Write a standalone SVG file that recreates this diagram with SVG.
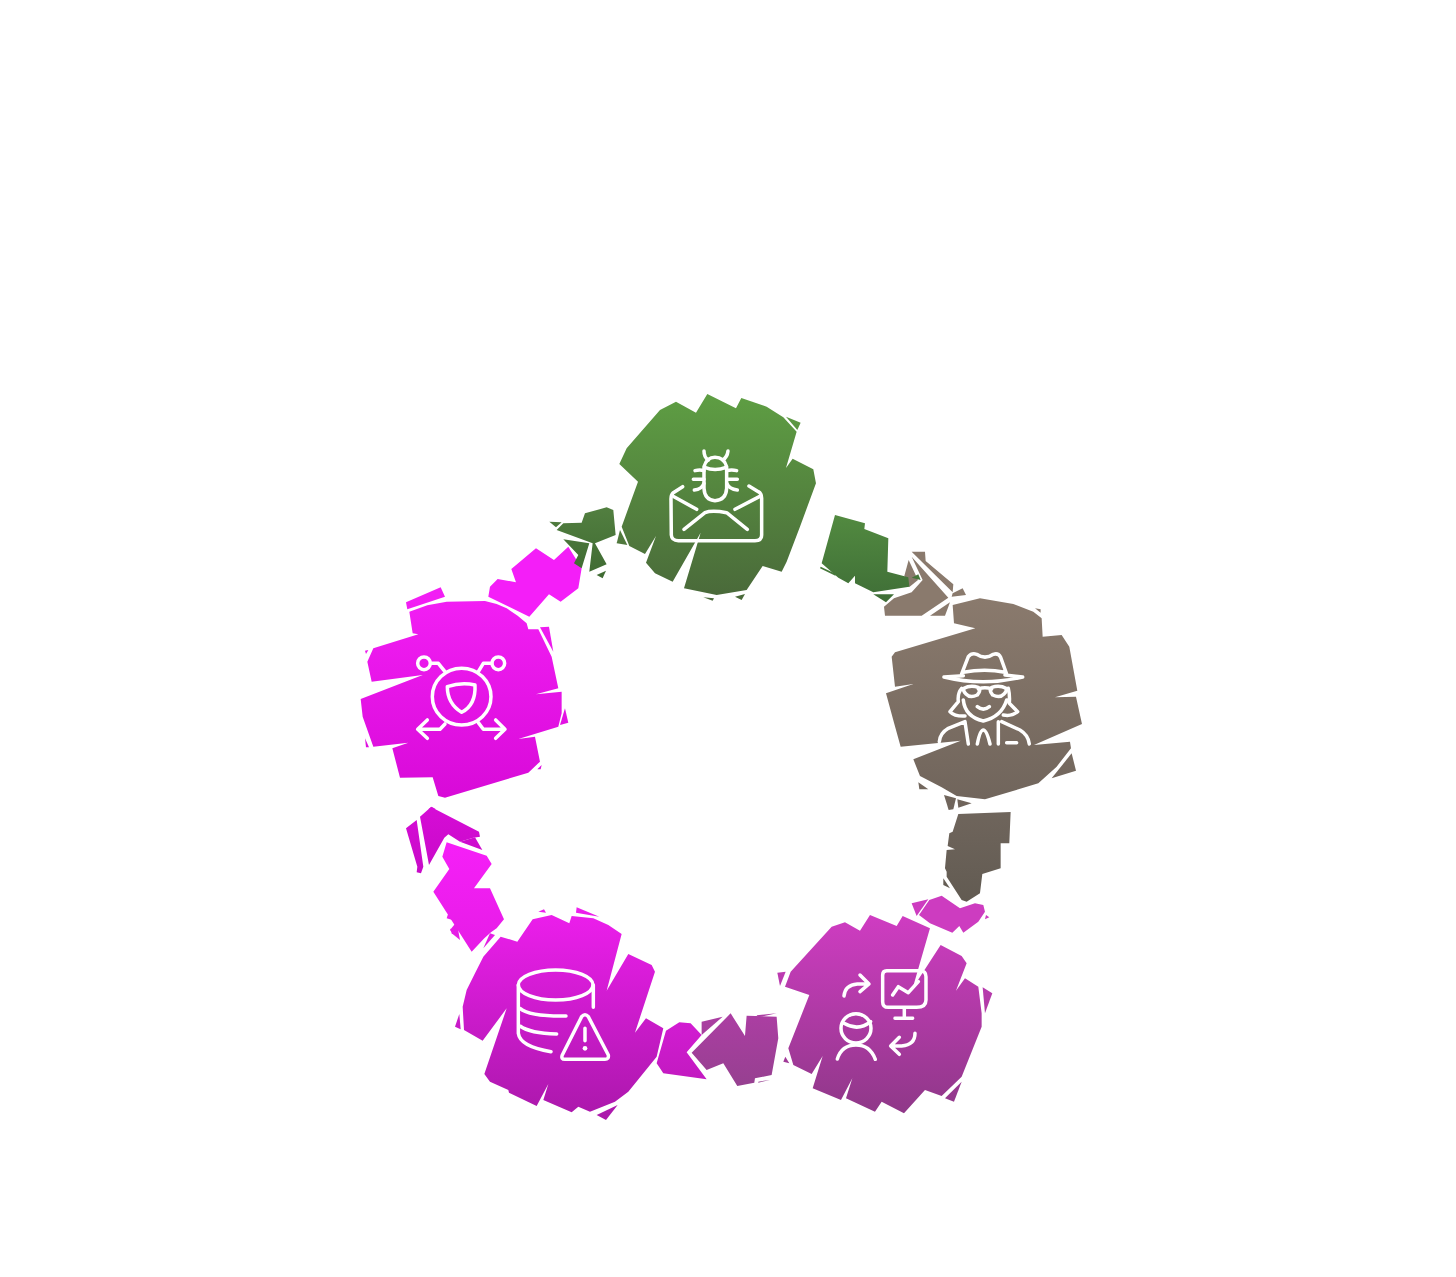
<svg xmlns="http://www.w3.org/2000/svg" width="1456" height="1277" viewBox="0 0 1456 1277">
<style>
.ic{fill:none;stroke:#fff;stroke-width:10.5;stroke-linecap:round;stroke-linejoin:round}
.gn{fill:url(#gGreen)}.ga{fill:url(#gGreenA)}.gb{fill:url(#gGreenB)}
.br{fill:url(#gBrown)}.bt{fill:#8a7a6d}.bb{fill:url(#gBrownB)}
.pu{fill:url(#gPurple)}.pt{fill:#cd3cc0}.pb{fill:url(#gPurpleB)}
.db{fill:url(#gDb)}.da{fill:url(#gDbA)}
.sh{fill:url(#gSh)}.st{fill:#f41ef8}.mb{fill:url(#gMb)}.md{fill:url(#gMd)}
</style>
<defs>
<linearGradient id="gGreen" gradientUnits="userSpaceOnUse" x1="0" x2="0" y1="42" y2="645"><stop offset="0" stop-color="#5e9e43"/><stop offset="1" stop-color="#4a6a3a"/></linearGradient>
<linearGradient id="gGreenA" gradientUnits="userSpaceOnUse" x1="0" x2="0" y1="30" y2="290"><stop offset="0" stop-color="#528a40"/><stop offset="1" stop-color="#3f6e37"/></linearGradient>
<linearGradient id="gGreenB" gradientUnits="userSpaceOnUse" x1="0" x2="0" y1="20" y2="235"><stop offset="0" stop-color="#527f40"/><stop offset="1" stop-color="#3f6a32"/></linearGradient>
<linearGradient id="gBrown" gradientUnits="userSpaceOnUse" x1="0" x2="0" y1="175" y2="810"><stop offset="0" stop-color="#8a7a6d"/><stop offset="1" stop-color="#6f645b"/></linearGradient>
<linearGradient id="gBrownB" gradientUnits="userSpaceOnUse" x1="0" x2="0" y1="36" y2="305"><stop offset="0" stop-color="#6f655c"/><stop offset="1" stop-color="#625b52"/></linearGradient>
<linearGradient id="gPurple" gradientUnits="userSpaceOnUse" x1="0" x2="0" y1="345" y2="940"><stop offset="0" stop-color="#cf3cc2"/><stop offset="1" stop-color="#8f3888"/></linearGradient>
<linearGradient id="gPurpleB" gradientUnits="userSpaceOnUse" x1="0" x2="0" y1="340" y2="558"><stop offset="0" stop-color="#ac3ea3"/><stop offset="1" stop-color="#964090"/></linearGradient>
<linearGradient id="gDb" gradientUnits="userSpaceOnUse" x1="0" x2="0" y1="20" y2="660"><stop offset="0" stop-color="#ee1eee"/><stop offset="1" stop-color="#aa18aa"/></linearGradient>
<linearGradient id="gDbA" gradientUnits="userSpaceOnUse" x1="0" x2="0" y1="367" y2="540"><stop offset="0" stop-color="#d21cd2"/><stop offset="1" stop-color="#c21ac0"/></linearGradient>
<linearGradient id="gSh" gradientUnits="userSpaceOnUse" x1="0" x2="0" y1="300" y2="893"><stop offset="0" stop-color="#f21ef4"/><stop offset="1" stop-color="#d80ad8"/></linearGradient>
<linearGradient id="gMb" gradientUnits="userSpaceOnUse" x1="0" x2="0" y1="140" y2="470"><stop offset="0" stop-color="#f61ff8"/><stop offset="1" stop-color="#e61ce6"/></linearGradient>
<linearGradient id="gMd" gradientUnits="userSpaceOnUse" x1="0" x2="0" y1="36" y2="235"><stop offset="0" stop-color="#d60cd6"/><stop offset="1" stop-color="#c80ac8"/></linearGradient>
</defs>
<rect width="1456" height="1277" fill="#fff"/>
<g id="connectors">
<g id="connector-green-brown">
<g transform="translate(810,505) scale(.3333)">
<g class="bt">
<polygon points="305,140 345,140 347,168 430,238 428,262"/>
<polygon points="428,265 458,250 468,270 425,275"/>
<polygon points="305,155 415,278 335,332 225,332 222,305 252,280 305,262 338,225"/>
<polygon points="360,332 405,332 420,292"/>
<polygon points="283,213 296,165 324,225 298,246"/>
</g>
<g class="ga">
<polygon points="75,30 165,55 163,72 235,100 232,200 295,217 298,245 190,262 135,235 135,212 115,235 85,218 35,175"/>
<polygon points="32,185 78,207 76,212 30,190"/>
<polygon points="305,218 325,208 332,225"/>
<polygon points="190,268 252,268 228,292"/>
</g>
</g>
</g>
<g id="connector-brown-purple">
<g transform="translate(770,800) scale(.3333)">
<polygon class="pt" points="425,310 475,298 440,348"/>
<polygon class="pt" points="447,345 478,300 515,287 570,325 615,310 640,315 645,335 625,365 580,398 568,378 547,398 480,370"/>
<polygon class="pt" points="648,345 658,352 645,358"/>
<polygon class="bb" points="565,42 722,36 718,130 692,130 692,205 637,222 630,280 590,305 575,300 530,230 530,215 525,205 530,150 555,148 533,138 538,100 548,95"/>
<polygon class="bb" points="520,235 540,265 520,255"/>
</g>
</g>
<g id="connector-purple-db">
<g transform="translate(440,900) scale(.3333)">
<polygon class="da" points="678,392 718,367 752,370 785,405 740,457 800,538 670,520 650,490"/>
<g class="pb">
<polygon points="755,458 872,340 915,408 920,347 1010,350 1015,415 995,525 945,535 943,548 892,558 850,490 800,510"/>
<polygon points="785,365 848,350 785,405"/>
<polygon points="950,346 1010,340 955,352"/>
<polygon points="955,545 990,540 955,548"/>
</g>
</g>
</g>
<g id="connector-db-shield">
<g transform="translate(395,795) scale(.3333)">
<g class="md">
<polygon points="33,100 65,75 85,215 78,235 65,232 67,215"/>
<polygon points="75,65 108,36 252,110 255,125 235,128 195,140 160,118 148,128 102,210"/>
<polygon points="195,140 240,127 262,165"/>
</g>
<g class="mb">
<polygon points="155,142 275,182 290,207 237,280 285,280 327,373 305,400 288,412 268,430 230,470 115,290 163,222 142,185"/>
<polygon points="160,355 172,375 155,370"/>
<polygon points="165,400 195,435 170,415"/>
</g>
</g>
</g>
<g id="connector-shield-green">
<g transform="translate(350,500) scale(.3333)">
<polygon class="st" points="415,290 420,260 443,237 498,247 484,207 558,145 612,180 655,140 695,205 685,265 632,305 597,283 538,350"/>
<g class="gb">
<polygon points="640,118 718,130 695,205 672,190 685,165"/>
<polygon points="620,90 640,70 695,68 705,40 770,22 790,30 797,105 735,130 770,193 718,215 728,130"/>
<polygon points="598,65 635,67 618,82"/>
<polygon points="740,225 768,212 758,235"/>
</g>
</g>
</g>
</g>
<g id="node-email-bug" transform="translate(600,380) scale(.3333)">
<g class="gn">
<polygon points="180,90 228,65 288,98 322,42 408,85 424,54 500,80 550,112 590,155 558,264 578,236 640,268 648,310 600,440 560,545 545,575 488,558 440,630 350,645 252,625 302,458 218,605 165,580 138,548 168,468 135,522 88,498 65,440 114,305 58,252 80,205"/>
<polygon points="50,490 60,450 82,495"/>
<polygon points="558,110 602,128 592,150"/>
<polygon points="310,652 342,655 338,662"/>
<polygon points="405,650 435,642 425,660"/>
</g>
<path class="ic" d="M248,320 L220,338 Q212,345 213,360 L214,465 Q215,482 235,482 L465,482 Q485,482 485,465 L485,355 Q485,340 475,335 L447,318"/>
<path class="ic" d="M222,350 L290,388M478,350 L405,388M252,448 L315,398 Q335,390 380,398 L442,448"/>
<path class="ic" d="M312,260 Q320,232 345,232 Q372,232 380,260 L380,325 Q378,360 345,362 Q314,360 312,325ZM314,262 Q345,275 378,262"/>
<path class="ic" d="M312,213 Q312,232 325,240M384,213 Q382,232 368,240M312,272 Q300,268 285,272M380,272 Q395,268 410,272M280,298 H312M380,298 H412M283,330 Q305,328 312,310M380,310 Q388,328 412,330"/>
</g>
<g id="node-spy" transform="translate(870,540) scale(.3333)">
<g class="br">
<polygon points="248,195 330,175 430,192 490,215 515,235 518,290 575,285 598,320 622,452 555,472 618,470 636,552 492,615 600,605 603,625 560,680 505,730 345,778 260,768 215,742 150,708 130,658 272,602 92,620 72,548 48,460 130,432 75,440 65,350 75,337 316,265 252,250"/>
<polygon points="605,640 618,692 545,715"/>
<polygon points="145,727 175,748 148,748"/>
<polygon points="222,765 258,775 250,808 236,810"/>
<polygon points="262,778 305,790 265,803"/>
<polygon points="495,205 512,208 512,218"/>
</g>
<path class="ic" d="M275,402 L295,350 Q305,338 320,343 Q345,360 370,343 Q385,338 392,352 L410,402M280,397 Q345,385 405,397M222,411 L280,407M405,405 L458,411M222,411 Q340,440 458,411"/>
<path class="ic" d="M282,445 Q300,435 325,442 Q335,450 322,465 Q300,475 288,462 Q278,452 282,445ZM408,445 Q390,435 365,442 Q355,450 368,465 Q390,475 402,462 Q412,452 408,445ZM325,447 Q345,440 365,447"/>
<path class="ic" d="M280,480 Q285,530 340,543 Q395,530 410,480M322,500 Q340,515 358,500M275,445 Q262,460 265,485 L240,515 Q255,530 285,528M415,445 Q420,465 418,490 L443,515 Q425,530 400,525"/>
<path class="ic" d="M208,605 Q210,580 235,565 L285,545 L295,612M395,545 L450,570 Q475,585 478,612M385,545 L385,612M322,612 Q330,570 340,570 Q350,570 360,612M410,608 H440"/>
</g>
<g id="node-presentation" transform="translate(770,800) scale(.3333)">
<g class="pu">
<polygon points="45,560 62,515 185,380 225,367 270,392 300,345 380,378 398,348 480,385 428,565 512,435 575,468 590,490 558,572 585,535 625,560 635,640 635,680 575,830 515,888 465,870 402,940 335,905 315,935 228,895 247,835 213,900 128,865 158,768 125,822 70,795 55,745 118,585"/>
<polygon points="22,518 47,515 30,558"/>
<polygon points="40,785 46,770 58,790"/>
<polygon points="638,562 667,580 645,640"/>
<polygon points="575,845 552,905 525,895"/>
</g>
<path class="ic" d="M350,512 H450 Q468,512 468,530 V600 Q468,622 440,622 H355 Q338,622 338,605 V525 Q338,512 350,512ZM403,622 V652M375,655 H428M368,585 L385,560 L415,578 L445,545"/>
<path class="ic" d="M222,588 Q225,555 262,552 H295M270,525 L297,552 L270,575"/>
<ellipse class="ic" cx="258" cy="685" rx="45" ry="44"/>
<path class="ic" d="M222,670 Q265,695 302,665M202,777 Q215,735 258,735 Q300,735 316,778M435,700 Q435,735 395,738 H362M388,712 L362,738 L388,763"/>
</g>
<g id="node-database" transform="translate(440,900) scale(.3333)">
<g class="db">
<polygon points="182,110 232,125 278,58 335,45 388,70 395,48 460,55 505,75 545,102 500,272 565,162 635,195 645,215 585,398 618,355 670,385 650,470 565,575 525,605 450,635 415,620 395,637 310,600 325,552 290,618 207,578 205,570 150,545 133,522 200,325 128,422 72,390 68,320 80,270 105,220 130,170"/>
<polygon points="295,35 312,28 318,38"/>
<polygon points="410,22 478,50 408,38"/>
<polygon points="45,380 58,342 62,388"/>
<polygon points="470,645 533,615 498,660"/>
<polygon points="130,145 150,100 165,105"/>
<polygon points="30,90 50,65 60,120"/>
</g>
<ellipse class="ic" cx="347" cy="255" rx="112" ry="45"/>
<path class="ic" d="M235,255 V400 Q240,440 333,455M460,255 V322M240,325 Q270,350 378,348M240,378 Q270,400 350,402"/>
<path class="ic" d="M425,350 Q435,338 445,350 L505,465 Q507,478 495,478 H375 Q362,478 367,465 ZM435,385 V422"/>
<circle cx="435" cy="445" r="7" fill="#fff"/>
</g>
<g id="node-shield" transform="translate(350,500) scale(.3333)">
<g class="sh">
<polygon points="178,335 232,316 290,305 405,303 440,312 470,325 503,347 530,370 535,388 565,388 605,470 625,565 558,583 635,575 635,640 625,680 505,717 555,710 570,785 535,818 285,893 265,888 248,832 150,833 127,745 175,728 70,740 38,650 32,597 218,525 65,545 52,485 70,445 205,403 188,400"/>
<polygon points="168,307 272,262 285,290 172,328"/>
<polygon points="570,382 597,380 610,455"/>
<polygon points="645,625 655,668 630,675"/>
<polygon points="45,715 57,742 48,742"/>
<polygon points="45,452 55,450 48,462"/>
<polygon points="235,928 245,920 258,928"/>
<polygon points="562,808 575,795 572,808"/>
</g>
<ellipse class="ic" cx="335" cy="590" rx="88" ry="85"/>
<path class="ic" d="M292,560 Q335,545 375,555 Q378,615 335,637 Q292,610 292,560Z"/>
<circle class="ic" cx="222" cy="490" r="19"/>
<circle class="ic" cx="445" cy="490" r="19"/>
<path class="ic" d="M242,490 H265 L285,515M425,490 H400 L385,515M285,672 L270,688 H205M232,660 L203,688 L232,715M385,668 L400,688 H465M437,660 L465,688 L437,715"/>
</g>
</svg>
